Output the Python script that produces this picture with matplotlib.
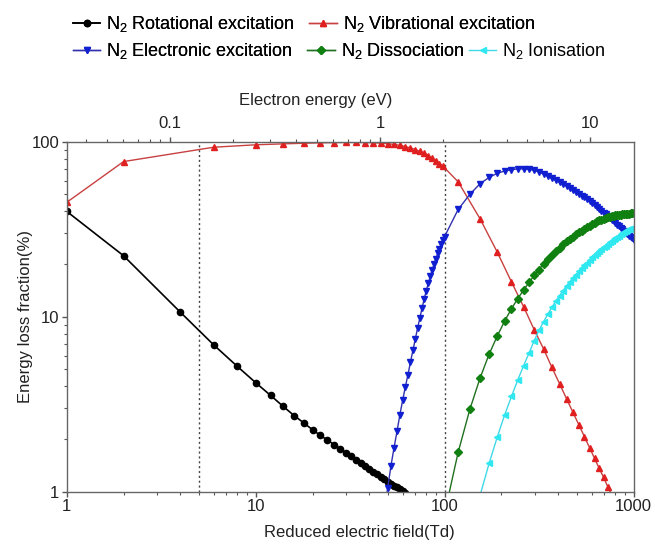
import matplotlib
matplotlib.use('Agg')
import matplotlib.pyplot as plt
from matplotlib.ticker import LogLocator, NullFormatter

plt.rcParams['font.family'] = ['Liberation Sans', 'DejaVu Sans']
plt.rcParams['mathtext.fontset'] = 'custom'
plt.rcParams['mathtext.rm'] = 'Liberation Sans'
plt.rcParams['mathtext.it'] = 'Liberation Sans'

# reduced electric field (Td) and energy loss fraction (%)
rot_field = [1, 2, 4, 6, 8, 10, 12, 14, 16, 18, 20, 22, 24, 26, 28, 30,
             32, 34, 36, 38, 40, 42, 44, 46, 48, 50, 52, 54, 56, 58, 60, 62]
rot_frac = [40, 22.3, 10.6, 6.9, 5.2, 4.2, 3.55, 3.07, 2.72, 2.47, 2.26, 2.10,
            1.97, 1.86, 1.76, 1.67, 1.59, 1.52, 1.46, 1.40, 1.35, 1.30, 1.26,
            1.22, 1.18, 1.14, 1.11, 1.08, 1.06, 1.03, 1.01, 0.98]

vib_field = [1, 2, 6, 10, 14, 18, 22, 26, 30, 34, 38, 42, 46, 50, 54, 58, 62,
             66, 70, 74, 78, 82, 86, 90, 94, 98,
             118, 154, 190, 226, 262, 298, 334, 370, 406, 442, 478, 514, 550,
             586, 622, 658, 694, 730, 766]
vib_frac = [45, 77, 93, 96, 97.2, 98, 98.5, 98.8, 99, 99, 98.9, 98.6, 98.1,
            97.4, 96.5, 95.3, 93.8, 92.1, 90.2, 88.1, 85.8, 83.3, 80.6, 77.8,
            75.0, 72.5,
            59, 36.3, 23.4, 15.8, 11.4, 8.43, 6.55, 5.13, 4.14, 3.40, 2.84,
            2.41, 2.06, 1.78, 1.55, 1.36, 1.21, 1.07, 0.96]

elec_field = [48, 50, 52, 54, 56, 58, 60, 62, 64, 66, 68, 70, 72, 74, 76, 78,
              80, 82, 84, 86, 88, 90, 92, 94, 96, 98, 100,
              118, 136, 154, 172, 190, 208, 226, 244, 262, 280,
              298, 316, 334, 352, 370, 388, 406, 424, 442, 460,
              478, 496, 514, 532, 550, 568, 586, 604, 622, 640,
              658, 676, 694, 712, 730, 748, 766, 784, 802, 820,
              838, 856, 874, 892, 910, 928, 946, 964, 982, 1000]
elec_frac = [0.78, 1.05, 1.40, 1.78, 2.21, 2.75, 3.33, 3.97, 4.66, 5.51, 6.42,
             7.46, 8.62, 9.83, 11.2, 12.6, 14.1, 15.5, 17.0, 18.5, 20.0, 21.5,
             23.0, 24.5, 25.9, 27.4, 28.7,
             41, 50, 57.5, 62.5, 66, 68, 69.3, 69.9, 70.0, 69.5,
             68.6, 67.1, 65.3, 63.5, 61.8, 60.2, 58.6, 57.1, 55.7, 54.3,
             53.0, 51.7, 50.4, 49.2, 48.1, 47.0, 45.9, 44.7, 43.6, 42.4,
             41.3, 40.3, 39.3, 38.4, 37.5, 36.7, 35.9, 35.1, 34.3, 33.6,
             32.9, 32.2, 31.5, 30.9, 30.3, 29.7, 29.1, 28.6, 28.1, 27.6]

diss_field = [100, 118, 136, 154, 172, 190, 208, 226, 244, 262,
              280, 298, 316, 334, 352, 370, 388, 406, 424, 442,
              460, 478, 496, 514, 532, 550, 568, 586, 604, 622,
              640, 658, 676, 694, 712, 730, 748, 766, 784, 802,
              820, 838, 856, 874, 892, 910, 928, 946, 964, 982, 1000]
diss_frac = [0.75, 1.68, 2.95, 4.45, 6.1, 7.75, 9.45, 11.1, 12.7, 14.2,
             15.7, 17.2, 18.6, 20.0, 21.3, 22.5, 23.7, 24.8, 25.9, 26.9,
             27.8, 28.7, 29.5, 30.3, 31.0, 31.8, 32.5, 33.2, 33.9, 34.5,
             35.0, 35.5, 35.9, 36.3, 36.7, 37.0, 37.3, 37.6, 37.8, 38.0,
             38.1, 38.2, 38.3, 38.4, 38.5, 38.6, 38.7, 38.8, 38.9, 39.0, 39.0]

ion_field = [154, 172, 190, 208, 226, 244, 262, 280, 298, 316,
             334, 352, 370, 388, 406, 424, 442, 460, 478, 496,
             514, 532, 550, 568, 586, 604, 622, 640, 658, 676,
             694, 712, 730, 748, 766, 784, 802, 820, 838, 856,
             874, 892, 910, 928, 946, 964, 982, 1000]
ion_frac = [0.95, 1.45, 2.05, 2.75, 3.5, 4.35, 5.25, 6.2, 7.3, 8.35,
            9.35, 10.35, 11.3, 12.3, 13.2, 14.1, 15.0, 15.8, 16.6, 17.4,
            18.2, 19.0, 19.7, 20.4, 21.1, 21.8, 22.5, 23.1, 23.7, 24.3,
            24.9, 25.5, 26.1, 26.6, 27.2, 27.7, 28.2, 28.6, 29.1, 29.5,
            29.9, 30.3, 30.7, 31.1, 31.5, 31.8, 32.0, 32.2]

guide_fields = [5, 100]
energy_ticks = [0.1, 1, 10]
energy_labels = ['0.1', '1', '10']

fig = plt.figure(figsize=(6.55, 5.45), dpi=100)
ax = fig.add_axes([0.1018, 0.0978, 0.8654, 0.6422])

l1, = ax.plot(rot_field, rot_frac, '-o', color='black', lw=1.2, ms=4.5,
              label=r'N$_2$ Rotational excitation')
l2, = ax.plot(vib_field, vib_frac, '-^', color='#c84040', mfc='#e02020',
              mec='#e02020', lw=1.0, ms=5, label=r'N$_2$ Vibrational excitation')
l3, = ax.plot(elec_field, elec_frac, '-v', color='#3030b0', mfc='#1020d0',
              mec='#1020d0', lw=1.0, ms=5, label=r'N$_2$ Electronic excitation')
l4, = ax.plot(diss_field, diss_frac, '-D', color='#207020', mfc='#108010',
              mec='#108010', lw=1.0, ms=4, label=r'N$_2$ Dissociation')
l5, = ax.plot(ion_field, ion_frac, '-<', color='#40d8e8', mfc='#30e8f0',
              mec='#30e8f0', lw=1.0, ms=5, label=r'N$_2$ Ionisation')

for g in guide_fields:
    ax.axvline(g, color='#444444', ls=(0, (1.5, 2)), lw=1.0, zorder=0)

ax.set_xscale('log')
ax.set_yscale('log')
ax.set_xlim(1, 1000)
ax.set_ylim(1, 100)
ax.set_xticks([1, 10, 100, 1000], ['1', '10', '100', '1000'])
ax.set_yticks([1, 10, 100], ['1', '10', '100'])
ax.xaxis.set_minor_formatter(NullFormatter())
ax.yaxis.set_minor_formatter(NullFormatter())
ax.tick_params(which='both', top=False, right=False, labelsize=12,
               colors='#222222', pad=2)
ax.tick_params(which='major', length=3.5, width=1, color='#555555')
ax.tick_params(which='minor', length=2.2, width=0.8, color='#555555')
for s in ax.spines.values():
    s.set_color('#666666')
    s.set_linewidth(1.0)
ax.set_xlabel('Reduced electric field(Td)', fontsize=12, color='#222222')
ax.set_ylabel('Energy loss fraction(%)', fontsize=12, color='#222222')
ax.xaxis.set_label_coords(0.517, -0.095)
ax.yaxis.set_label_coords(-0.06, 0.5)

ax2 = ax.twiny()
ax2.set_xscale('log')
ax2.set_xlim(0.0322, 16.1)
ax2.set_xticks(energy_ticks, energy_labels)
ax2.xaxis.set_minor_locator(LogLocator(base=10, subs=range(2, 10)))
ax2.xaxis.set_minor_formatter(NullFormatter())
ax2.tick_params(which='both', labelsize=12, colors='#222222', pad=4)
ax2.tick_params(which='major', length=3.5, width=1, color='#555555')
ax2.tick_params(which='minor', length=2.2, width=0.8, color='#555555')
for s in ax2.spines.values():
    s.set_visible(False)
ax2.set_xlabel('Electron energy (eV)', fontsize=12, color='#222222')
ax2.xaxis.set_label_coords(0.44, 1.105)

leg_kw = dict(loc='center left', frameon=False, fontsize=13, handlelength=1.5,
              handletextpad=0.35, columnspacing=0.8, borderpad=0,
              borderaxespad=0)
leg1 = fig.legend(handles=[l1, l2], ncol=2,
                  bbox_to_anchor=(73 / 655, 1 - 24 / 545), **leg_kw)
leg2 = fig.legend(handles=[l3, l4], ncol=2,
                  bbox_to_anchor=(73 / 655, 1 - 51 / 545), **leg_kw)
fig.legend(handles=[l5], bbox_to_anchor=(469 / 655, 1 - 51 / 545), **leg_kw)
fig.add_artist(leg1)
fig.add_artist(leg2)

fig.savefig('out.png', dpi=100)
